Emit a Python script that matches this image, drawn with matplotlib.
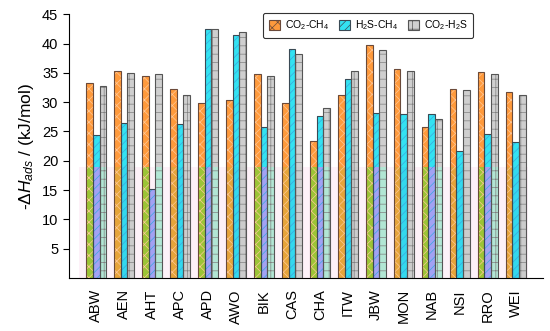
import matplotlib
matplotlib.use('Agg')
import matplotlib.pyplot as plt
import matplotlib.patches as mpatches
import numpy as np

plt.rcParams['font.family'] = ['Liberation Sans', 'DejaVu Sans']
plt.rcParams['mathtext.fontset'] = 'custom'
plt.rcParams['mathtext.rm'] = 'Liberation Sans'
plt.rcParams['mathtext.it'] = 'Liberation Sans:italic'
plt.rcParams['hatch.linewidth'] = 0.5

# --- data ---
frameworks = ['ABW', 'AEN', 'AHT', 'APC', 'APD', 'AWO', 'BIK', 'CAS',
              'CHA', 'ITW', 'JBW', 'MON', 'NAB', 'NSI', 'RRO', 'WEI']
co2_ch4 = [33.2, 35.4, 34.5, 32.2, 29.8, 30.4, 34.8, 29.8,
           23.3, 31.2, 39.7, 35.7, 25.7, 32.3, 35.1, 31.7]
h2s_ch4 = [24.4, 26.5, 15.2, 26.2, 42.4, 41.4, 25.8, 39.0,
           27.6, 34.0, 28.2, 27.9, 28.0, 21.7, 24.6, 23.2]
co2_h2s = [32.7, 34.9, 34.8, 31.3, 42.5, 41.9, 34.5, 38.3,
           29.0, 35.3, 38.9, 35.4, 27.2, 32.0, 34.8, 31.2]
series_labels = ['CO$_2$-CH$_4$', 'H$_2$S-CH$_4$', 'CO$_2$-H$_2$S']

# style: (face, hatch colour, hatch, edge)
styles = [('#FF9A3C', '#FFC898', 'xxx', '#6B4A3A'),
          ('#33E2F2', '#3AA8E0', '////', '#3A4A55'),
          ('#CFCFCF', '#808080', '++', '#555555')]
# tinted lower part (compositing band in original figure)
low_even = ['#9CC436', '#A2A2F4', '#B2E6D4']
low_odd = ['#E6A43A', '#33D8EE', '#CCCCCC']
band_top = 19.0

fig, ax = plt.subplots(figsize=(5.5, 3.31), dpi=100)
fig.subplots_adjust(left=0.125, right=0.987, top=0.957, bottom=0.16)

x = np.arange(len(frameworks))
w = 0.24

ax.fill_between([-0.6, 15.45], 0, band_top, color='#FDF1F8', zorder=0, lw=0)

for k, vals in enumerate([co2_ch4, h2s_ch4, co2_h2s]):
    face, hcol, hatch, edge = styles[k]
    pos = x + (k - 1) * w
    vals = np.array(vals)
    ax.bar(pos, vals, w, color=face, edgecolor='none', zorder=2)
    lows = np.minimum(vals, band_top)
    low_cols = [low_even[k] if i % 2 == 0 else low_odd[k] for i in range(len(vals))]
    ax.bar(pos, lows, w, color=low_cols, edgecolor='none', zorder=2.5)
    ax.bar(pos, vals, w, color='none', edgecolor=hcol, hatch=hatch, lw=0, zorder=3)
    ax.bar(pos, vals, w, color='none', edgecolor=edge, lw=0.8, zorder=4)

ax.set_xlim(-0.98, 15.97)
ax.set_ylim(0, 45)
ax.set_yticks(np.arange(5, 46, 5))
ax.set_xticks(x)
ax.set_xticklabels(frameworks, rotation=90, fontsize=10.5)
ax.tick_params(axis='x', length=0, pad=8)
ax.tick_params(axis='y', direction='out', length=4, width=0.8, labelsize=10.5)
ax.spines['top'].set_visible(False)
ax.spines['right'].set_visible(False)
ax.set_ylabel(r'-$\Delta H_{ads}$ / (kJ/mol)', fontsize=12.5, labelpad=4)

handles = []
for k in range(3):
    face, hcol, hatch, edge = styles[k]
    handles.append(mpatches.Patch(facecolor=face, edgecolor=edge, hatch=hatch, lw=0.8,
                                  label=series_labels[k]))
leg = ax.legend(handles=handles, loc='upper left', bbox_to_anchor=(0.41, 1.005),
                borderaxespad=0, ncol=3, fontsize=7.5, frameon=True, fancybox=True,
                edgecolor='#333333', handlelength=1.1, handleheight=1.1,
                handletextpad=0.45, columnspacing=0.9, borderpad=0.55, framealpha=1)
leg.get_frame().set_linewidth(0.8)
leg.set_zorder(10)

fig.savefig('out.png', dpi=100)
